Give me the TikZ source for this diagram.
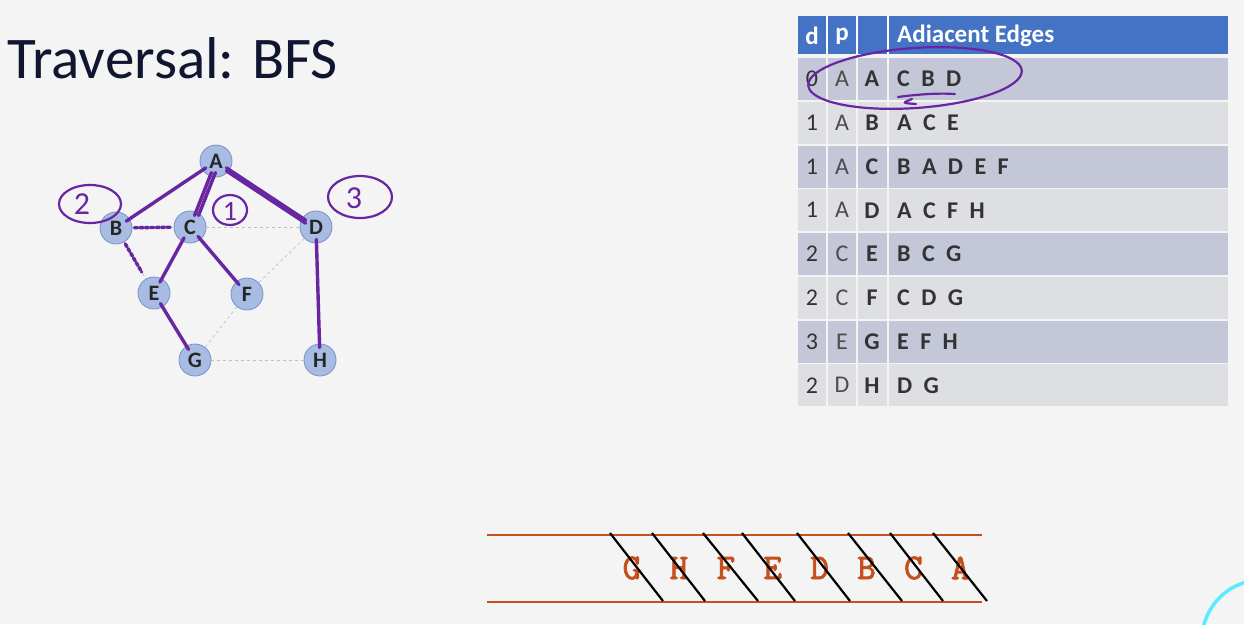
\documentclass[tikz,border=0pt]{standalone}
\usepackage{fontspec}
\setmainfont{Carlito}
\newfontfamily\adjfont[WordSpace=2.1]{Carlito}
\newfontfamily\queuefont[FakeBold=2.5]{Latin Modern Mono}
\definecolor{bgcol}{RGB}{243,244,243}
\definecolor{titlecol}{RGB}{16,22,48}
\definecolor{vertfill}{RGB}{168,187,226}
\definecolor{vertdraw}{RGB}{120,145,200}
\definecolor{treeblue}{RGB}{80,140,210}
\definecolor{ink}{RGB}{104,38,160}
\definecolor{headblue}{RGB}{68,114,196}
\definecolor{rowdark}{RGB}{196,199,216}
\definecolor{rowlight}{RGB}{222,223,227}
\definecolor{queueorange}{RGB}{197,80,30}
\definecolor{ringcyan}{RGB}{90,235,255}
\begin{document}
\begin{tikzpicture}[x=1pt,y=-1pt,
    vertex/.style={circle,draw=vertdraw,fill=vertfill,line width=0.8pt,minimum size=32pt,
        inner sep=0pt,font=\fontsize{22}{22}\selectfont\bfseries,text=black!85},
    edge/.style={draw=gray!50,dashed,line width=0.7pt},
    treeedge/.style={draw=treeblue,line width=1.4pt},
    inkline/.style={draw=ink,line width=3.4pt,line cap=round,shorten <=-4pt,shorten >=-4pt},
    inkthin/.style={draw=ink,line width=2.2pt,line cap=round},
    cell/.style={inner sep=0pt,font=\fontsize{24}{24}\selectfont,text=black!80},
    head/.style={inner sep=0pt,font=\fontsize{25}{25}\selectfont\bfseries,text=white},
    qletter/.style={inner sep=0pt,font=\queuefont\fontsize{36}{36}\selectfont,text=queueorange},
    slash/.style={draw=black,line width=2.2pt}]
    \useasboundingbox (0,0) rectangle (1244,624);
    \fill[bgcol] (0,0) rectangle (1244,624);

    \node[anchor=base west,inner sep=0pt,font=\fontsize{59}{59}\selectfont,text=titlecol] (title) at (7,78) {Traversal: BFS};

    % graph
    \foreach \n/\x/\y in {A/216/161, B/116/228, C/190/227, D/316/227, E/154/293, F/247/294, G/195/360, H/320/360}
        \node[vertex] (\n) at (\x,\y) {\n};
    \foreach \u/\v in {A/B,A/C,A/D,B/C,B/E,C/D,C/E,C/F,D/F,D/H,E/G,F/G,G/H}
        \draw[edge] (\u) -- (\v);
    \foreach \u/\v in {A/B,A/C,A/D,C/E,C/F,E/G,D/H}
        \draw[treeedge] (\u) -- (\v);
    \foreach \u/\v in {A/B,A/C,A/D,C/E,C/F,E/G,D/H}
        \draw[inkline] (\u) -- (\v);
    \draw[inkline,transform canvas={xshift=4pt}] (A) -- (C);
    \draw[inkline,transform canvas={yshift=-3pt}] (A) -- (D);
    \draw[inkline,dotted,shorten <=2pt,shorten >=2pt] (B) -- (C);
    \draw[inkline,dotted,shorten <=2pt,shorten >=8pt] (B) -- (E);

    % order of visits
    \node[inner sep=0pt,font=\fontsize{32}{32}\selectfont,text=ink] (two) at (82,204) {2};
    \draw[inkthin] (90,204) ellipse [x radius=31, y radius=19];
    \node[inner sep=0pt,font=\fontsize{28}{28}\selectfont,text=ink] (one) at (230,211) {1};
    \draw[inkthin] (230,210) ellipse [x radius=17, y radius=15];
    \node[inner sep=0pt,font=\fontsize{32}{32}\selectfont,text=ink] (three) at (354,198) {3};
    \draw[inkthin] (360,197) ellipse [x radius=32, y radius=21];

    % table
    \fill[headblue] (798,16) rectangle (1228,54);
    \foreach \x in {827,857,888}
        \draw[white,line width=1.5pt] (\x,16) -- (\x,54);
    \node[head] (hd) at (812,36) {d};
    \node[head] (hp) at (842,36) {p};
    \node[head,anchor=west] (hadj) at (897,36) {Adiacent Edges};
    \foreach \d/\p/\v/\adj/\c [count=\i from 0] in {0/A/A/C B D/rowdark, 1/A/B/A C E/rowlight,
            1/A/C/B A D E F/rowdark, 1/A/D/A C F H/rowlight, 2/C/E/B C G/rowdark,
            2/C/F/C D G/rowlight, 3/E/G/E F H/rowdark, 2/D/H/D G/rowlight} {
        \pgfmathsetmacro\top{58+43.75*\i}
        \pgfmathsetmacro\bot{\top+42}
        \pgfmathsetmacro\mid{\top+21}
        \fill[\c] (798,\top) rectangle (826,\bot);
        \fill[\c] (828,\top) rectangle (856,\bot);
        \fill[\c] (858,\top) rectangle (887,\bot);
        \fill[\c] (889,\top) rectangle (1228,\bot);
        \node[cell] (d\i) at (812,\mid) {\d};
        \node[cell,text=black!70] (p\i) at (842,\mid) {\p};
        \node[cell,font=\fontsize{24}{24}\selectfont\bfseries] (v\i) at (872,\mid) {\v};
        \node[cell,anchor=west,font=\adjfont\fontsize{24}{24}\selectfont\bfseries] (adj\i) at (897,\mid) {\adj};
    }
    \draw[inkthin,rotate around={4:(915,78)}] (915,78) ellipse [x radius=107, y radius=30];
    \draw[inkthin] (898,97) .. controls (920,94) and (940,93) .. (955,94);
    \draw[inkthin] (912,99) .. controls (902,103) .. (916,104);

    % queue
    \draw[queueorange,line width=2.5pt] (487,535) -- (982,535);
    \draw[queueorange,line width=2.5pt] (487,602) -- (982,602);
    \foreach \l [count=\k from 0] in {G,H,F,E,D,B,C,A}
        \node[qletter] (q\l) at (632+46.9*\k,568) {\l};
    \foreach \t/\b in {610/663,652/705,703/758,742/795,797/850,848/902,890/943,933/987}
        \draw[slash] (\t,533) -- (\b,601);

    \draw[ringcyan,line width=3.5pt] (1262,640) circle (60);
\end{tikzpicture}
\end{document}
